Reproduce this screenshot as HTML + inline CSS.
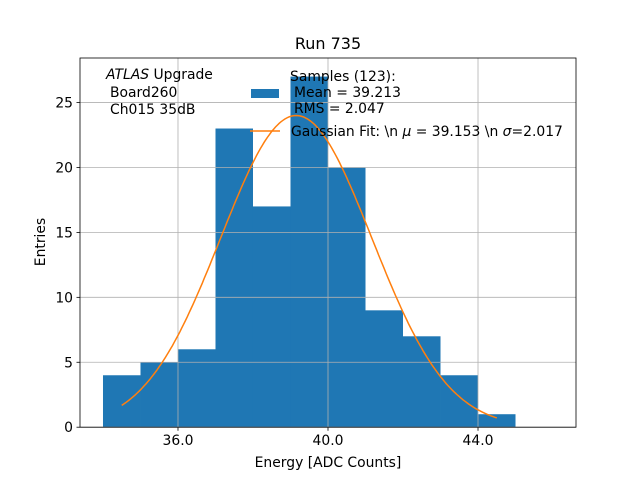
<!DOCTYPE html>
<html><head><meta charset="utf-8"><style>body{margin:0;background:#fff}svg{display:block;font-family:"DejaVu Sans","Liberation Sans",sans-serif}</style></head>
<body>
<svg id="c" width="640" height="480"></svg>
<script>
const binEdges=[34,35,36,37,38,39,40,41,42,43,44];
const counts=[4,5,6,23,17,27,20,9,7,4,1];
const xTicks=[36,40,44];
const yTicks=[0,5,10,15,20,25];
const fitMu=39.153, fitSigma=2.017, fitAmp=24.0, fitRange=[34.5,44.5];
const L=80,R=576,T=58,B=427.2,xmin=33.387,xmax=46.613,ymax=28.43;
const X=v=>L+(v-xmin)/(xmax-xmin)*(R-L);
const Y=v=>B-v/ymax*(B-T);
const svg=document.getElementById('c');const NS='http://www.w3.org/2000/svg';
function mk(t,a,p){const e=document.createElementNS(NS,t);for(const k in a)e.setAttribute(k,a[k]);(p||svg).appendChild(e);return e;}
counts.forEach((c,i)=>{const r=mk('rect',{x:X(binEdges[i]),y:Y(c),width:X(binEdges[i]+1)-X(binEdges[i]),height:B-Y(c),fill:'#1f77b4'});

});
xTicks.forEach(v=>{const g=mk('line',{x1:X(v),x2:X(v),y1:T,y2:B,stroke:'#b0b0b0','stroke-width':0.8});


mk('line',{x1:X(v),x2:X(v),y1:B,y2:B+3.5,stroke:'#000','stroke-width':0.8});
const t=mk('text',{x:X(v),y:B+18,'text-anchor':'middle','font-size':13.9});t.textContent=v.toFixed(1);

});
yTicks.forEach(v=>{const g=mk('line',{x1:L,x2:R,y1:Y(v),y2:Y(v),stroke:'#b0b0b0','stroke-width':0.8});


mk('line',{x1:L-3.5,x2:L,y1:Y(v),y2:Y(v),stroke:'#000','stroke-width':0.8});
const t=mk('text',{x:L-7,y:Y(v)+5,'text-anchor':'end','font-size':13.9});t.textContent=v;

});
let pts=[];for(let i=0;i<=200;i++){const x=fitRange[0]+(fitRange[1]-fitRange[0])*i/200;const y=fitAmp*Math.exp(-0.5*((x-fitMu)/fitSigma)**2);pts.push(X(x).toFixed(1)+','+Y(y).toFixed(1));}
const pl=mk('polyline',{points:pts.join(' '),fill:'none',stroke:'#ff7f0e','stroke-width':1.5});


const fr=mk('rect',{x:L,y:T,width:R-L,height:B-T,fill:'none',stroke:'#000','stroke-width':0.8});


</script>
<svg width="640" height="480" style="position:absolute;left:0;top:0;font-family:'DejaVu Sans','Liberation Sans',sans-serif">
<text x="328" y="49" text-anchor="middle" font-size="16">Run 735</text>
<text x="328" y="467" text-anchor="middle" font-size="13.9">Energy [ADC Counts]</text>
<text transform="translate(45,242) rotate(-90)" text-anchor="middle" font-size="13.9">Entries</text>
<g font-size="13.9">
<text x="106" y="79"><tspan font-style="italic">ATLAS</tspan> Upgrade</text>
<text x="110" y="97">Board260</text>
<text x="110" y="114">Ch015 35dB</text>
</g>
<g font-size="13.9">
<rect x="251" y="89" width="28" height="9" fill="#1f77b4"/>
<text x="290" y="81">Samples (123):</text>
<text x="294" y="97">Mean = 39.213</text>
<text x="294" y="113">RMS = 2.047</text>
<line x1="250" x2="280" y1="131" y2="131" stroke="#ff7f0e" stroke-width="1.5"/>
<text x="291" y="136">Gaussian Fit: \n <tspan font-style="italic">μ</tspan> = 39.153 \n <tspan font-style="italic">σ</tspan>=2.017</text>
</g>
</svg>
</body></html>
